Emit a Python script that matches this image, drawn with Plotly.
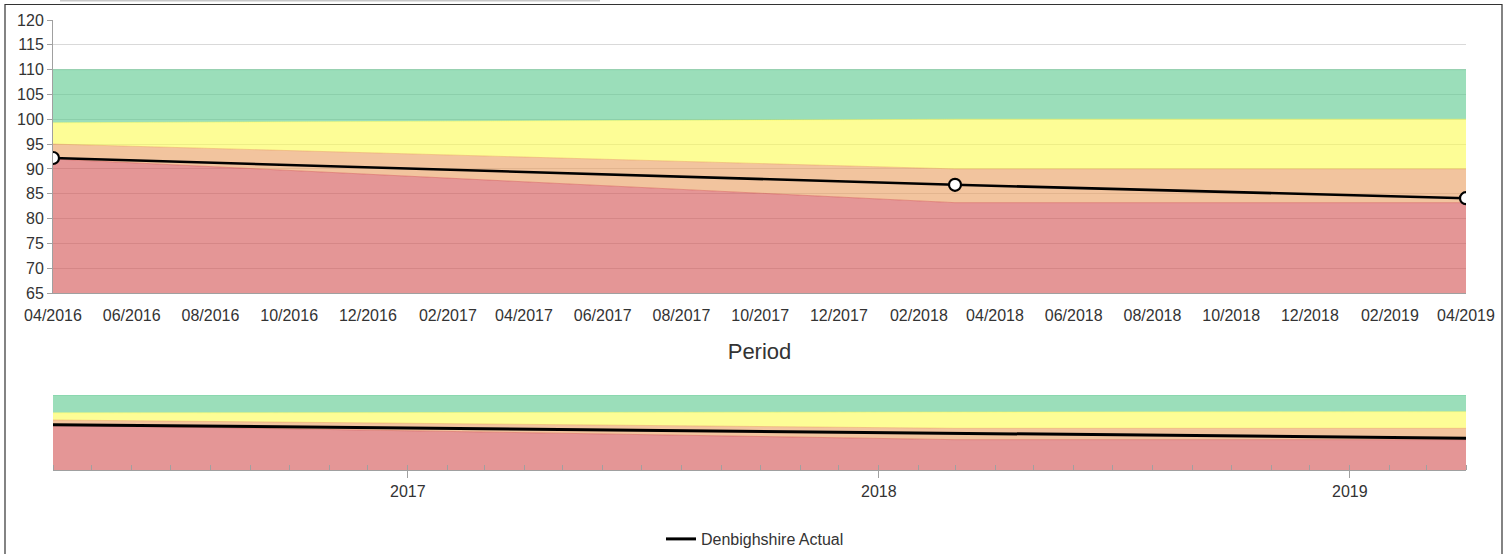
import plotly.graph_objects as go

# ---- data ----
periods = ["2016-04-01", "2018-03-01", "2019-04-01"]
actual = [92.2, 86.8, 84.1]
red_top = [92.0, 83.2, 83.2]        # below: red
orange_top = [95.0, 90.0, 90.0]     # red_top .. orange_top : orange
yellow_top = [99.3, 100.0, 100.0]   # orange_top .. yellow_top : yellow
green_top = [110.0, 110.0, 110.0]   # yellow_top .. green_top : green
series_name = "Denbighshire Actual"
x_title = "Period"

W, H = 1511, 554
ML, MR, MT, MB = 53, 45, 20, 84
PW, PH = W - ML - MR, H - MT - MB


def py(pix):
    return (H - MB - pix) / PH


def px(pix):
    return (pix - ML) / PW


band_cols = [
    ("rgba(210,80,80,0.6)", red_top, "tozeroy"),
    ("rgba(233,157,93,0.6)", orange_top, "tonexty"),
    ("rgba(252,252,80,0.6)", yellow_top, "tonexty"),
    ("rgba(88,200,140,0.6)", green_top, "tonexty"),
]

fig = go.Figure()
for xa, ya in (("x", "y"), ("x2", "y2")):
    for col, vals, fill in band_cols:
        fig.add_trace(go.Scatter(
            x=periods, y=vals, xaxis=xa, yaxis=ya, mode="lines",
            line=dict(color=col, width=0.8), fill=fill, fillcolor=col,
            showlegend=False, hoverinfo="skip"))

fig.add_trace(go.Scatter(
    x=periods, y=actual, xaxis="x", yaxis="y", mode="lines+markers",
    line=dict(color="black", width=2.6),
    marker=dict(size=12, color="white", line=dict(color="black", width=2.2)),
    showlegend=False, name=series_name))
fig.add_trace(go.Scatter(
    x=periods, y=actual, xaxis="x2", yaxis="y2", mode="lines",
    line=dict(color="black", width=3), name=series_name, showlegend=True))

font_col = "#333333"
axis_col = "#a0a0a0"
fig.update_layout(
    width=W, height=H,
    margin=dict(l=ML, r=MR, t=MT, b=MB, autoexpand=False),
    paper_bgcolor="white", plot_bgcolor="white",
    font=dict(family="Liberation Sans, Arial, sans-serif", size=16, color=font_col),
    xaxis=dict(domain=[0, 1], anchor="y", type="date",
               range=[periods[0], periods[-1]], tick0="2016-04-01", dtick="M2",
               tickformat="%m/%Y", showgrid=False, showline=True, linecolor=axis_col,
               ticks="outside", ticklen=8, tickcolor="rgba(0,0,0,0)",
               tickfont=dict(size=16, color=font_col),
               title=dict(text=x_title, font=dict(size=22, color=font_col), standoff=20),
               zeroline=False),
    yaxis=dict(domain=[py(293), 1], anchor="x", range=[65, 120], dtick=5,
               gridcolor="#d9d9d9", showline=True, linecolor=axis_col,
               ticks="outside", ticklen=5, tickcolor=axis_col,
               tickfont=dict(size=16, color=font_col), zeroline=False),
    xaxis2=dict(domain=[0, 1], anchor="y2", type="date",
                range=[periods[0], periods[-1]], tick0="2017-01-01", dtick="M12",
                tickformat="%Y", showgrid=False, showline=True, linecolor=axis_col,
                ticks="outside", ticklen=7, tickcolor=axis_col,
                minor=dict(ticks="inside", dtick="M1", tick0="2016-04-01",
                           ticklen=5, tickcolor=axis_col, showgrid=False),
                tickfont=dict(size=16, color=font_col), zeroline=False),
    yaxis2=dict(domain=[0, py(395)], anchor="x2", range=[65, 110], visible=False,
                fixedrange=True),
    legend=dict(orientation="h", x=0.5 - 4.5 / PW, xanchor="center", y=py(539),
                yanchor="middle",
                font=dict(size=16, color=font_col), bgcolor="rgba(0,0,0,0)"),
    shapes=[
        dict(type="rect", xref="paper", yref="paper",
             x0=px(5), x1=px(1502), y0=py(560), y1=py(4.5),
             line=dict(color="#333333", width=1.2), fillcolor="rgba(0,0,0,0)",
             layer="above"),
        dict(type="line", xref="paper", yref="paper",
             x0=px(60), x1=px(600), y0=py(0.8), y1=py(0.8),
             line=dict(color="#c8c8c8", width=1.5)),
    ],
)

fig.write_html(
    "out.html",
    config={"displayModeBar": False},
    post_script="document.body.style.margin='0';document.body.style.overflow='hidden';",
)
